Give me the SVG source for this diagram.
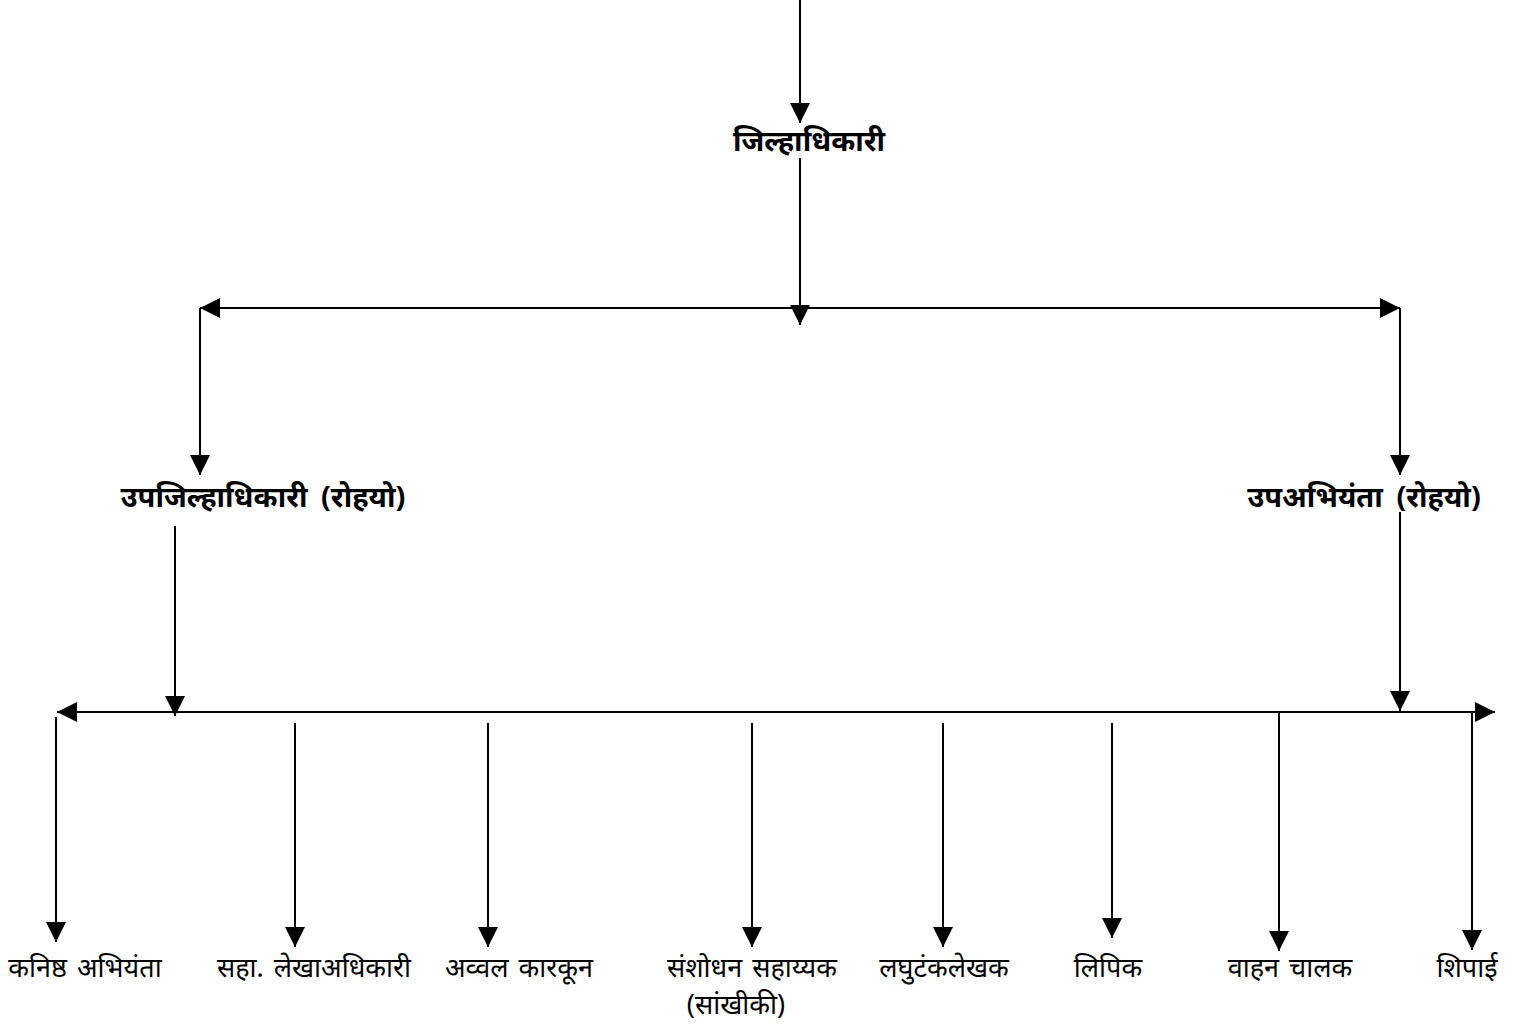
<svg xmlns="http://www.w3.org/2000/svg" width="1532" height="1029" viewBox="0 0 1532 1029">
<style>
.ln{stroke:#000;stroke-width:2;fill:none}
.t{font-family:"Noto Sans","Noto Sans Devanagari","Lohit Devanagari","FreeSans",sans-serif;fill:#000;text-anchor:middle}
.b{font-size:29px;font-weight:bold}
.r{font-size:27px;word-spacing:3px}
</style>
<defs>
<marker id="arr" viewBox="0 0 20 20" refX="20" refY="10" markerWidth="20" markerHeight="20" markerUnits="userSpaceOnUse" orient="auto">
<path d="M0,0 L20,10 L0,20 Z" fill="#000"/>
</marker>
</defs>
<rect width="1532" height="1029" fill="#fff"/>
<g id="connectors">
<line class="ln" x1="800" y1="0" x2="800" y2="123" marker-end="url(#arr)"/>
<line class="ln" x1="800" y1="158" x2="800" y2="325" marker-end="url(#arr)"/>
<line class="ln" x1="800" y1="308" x2="200" y2="308" marker-end="url(#arr)"/>
<line class="ln" x1="800" y1="308" x2="1400" y2="308" marker-end="url(#arr)"/>
<line class="ln" x1="200" y1="308" x2="200" y2="475" marker-end="url(#arr)"/>
<line class="ln" x1="1400" y1="308" x2="1400" y2="475" marker-end="url(#arr)"/>
<line class="ln" x1="175" y1="526" x2="175" y2="716" marker-end="url(#arr)"/>
<line class="ln" x1="1400" y1="512" x2="1400" y2="711" marker-end="url(#arr)"/>
<line class="ln" x1="760" y1="712" x2="57" y2="712" marker-end="url(#arr)"/>
<line class="ln" x1="760" y1="712" x2="1495" y2="712" marker-end="url(#arr)"/>
<line class="ln" x1="56" y1="717" x2="56" y2="942" marker-end="url(#arr)"/>
<line class="ln" x1="295" y1="723" x2="295" y2="947" marker-end="url(#arr)"/>
<line class="ln" x1="488" y1="723" x2="488" y2="947" marker-end="url(#arr)"/>
<line class="ln" x1="752" y1="723" x2="752" y2="947" marker-end="url(#arr)"/>
<line class="ln" x1="943" y1="723" x2="943" y2="947" marker-end="url(#arr)"/>
<line class="ln" x1="1112" y1="723" x2="1112" y2="938" marker-end="url(#arr)"/>
<line class="ln" x1="1279" y1="712" x2="1279" y2="951" marker-end="url(#arr)"/>
<line class="ln" x1="1472" y1="712" x2="1472" y2="950" marker-end="url(#arr)"/>
</g>
<g id="n-collector"><text class="t b" x="809" y="151">जिल्हाधिकारी</text></g>
<g id="n-sdo"><text class="t b" x="263" y="507" word-spacing="6">उपजिल्हाधिकारी (रोहयो)</text></g>
<g id="n-de"><text class="t b" x="1364" y="507" word-spacing="6">उपअभियंता (रोहयो)</text></g>
<g id="n-je"><text class="t r" x="85" y="977">कनिष्ठ अभियंता</text></g>
<g id="n-alo"><text class="t r" x="314" y="977">सहा. लेखाअधिकारी</text></g>
<g id="n-ak"><text class="t r" x="519" y="977">अव्वल कारकून</text></g>
<g id="n-ra"><text class="t r" x="752" y="977">संशोधन सहाय्यक</text><text class="t r" x="736" y="1014">(सांखीकी)</text></g>
<g id="n-steno"><text class="t r" x="944" y="977">लघुटंकलेखक</text></g>
<g id="n-clerk"><text class="t r" x="1108" y="977">लिपिक</text></g>
<g id="n-driver"><text class="t r" x="1290" y="977">वाहन चालक</text></g>
<g id="n-peon"><text class="t r" x="1467" y="977">शिपाई</text></g>
</svg>
